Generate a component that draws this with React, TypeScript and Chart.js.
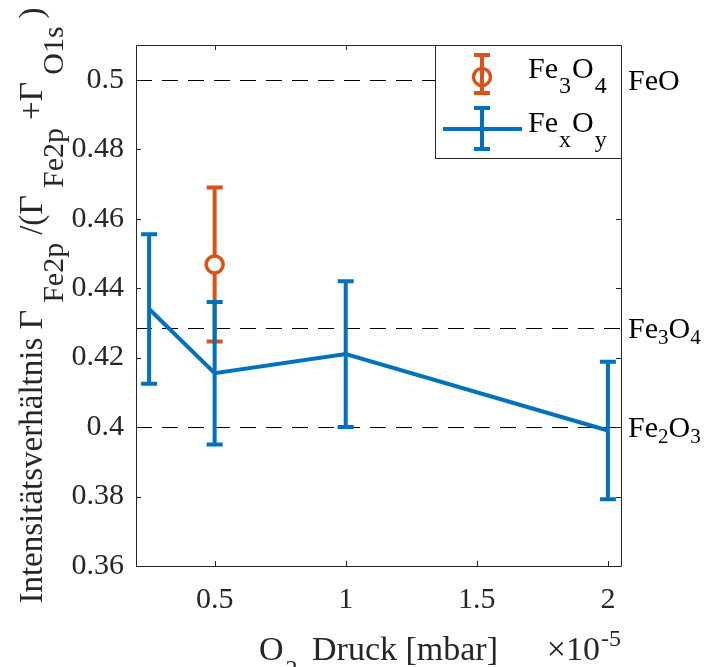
import React, { useEffect, useRef } from "react";
import { Chart, registerables } from "chart.js";

Chart.register(...registerables);

// O2 pressure in units of 1e-5 mbar
const pressureFexOy = [0.25, 0.5, 1, 2];
const ratioFexOy = [0.434, 0.4155, 0.421, 0.399];
const errFexOy = [0.0215, 0.0205, 0.021, 0.0198];

const pressureFe3O4 = [0.5];
const ratioFe3O4 = [0.4468];
const errFe3O4 = [0.0222];

const xTicks = [0.5, 1, 1.5, 2];
const yTicks = [0.36, 0.38, 0.4, 0.42, 0.44, 0.46, 0.48, 0.5];

type Run = { t: string; sub?: boolean; sup?: boolean; gap?: number; size?: number };

// reference stoichiometric ratios
const refLabels: Run[][] = [
  [{ t: "FeO" }],
  [{ t: "Fe" }, { t: "3", sub: true }, { t: "O" }, { t: "4", sub: true }],
  [{ t: "Fe" }, { t: "2", sub: true }, { t: "O" }, { t: "3", sub: true }],
];
const refValues = [0.5, 0.4286, 0.4];

const BLUE = "#0072BD";
const ORANGE = "#D95319";
const AXIS = "#262626";
const FONT = "'Liberation Serif', 'Times New Roman', serif";

function f(size: number) {
  return `${size}px ${FONT}`;
}

function drawRuns(
  ctx: CanvasRenderingContext2D,
  runs: Run[],
  x: number,
  y: number,
  size: number,
  subSize: number,
  subOff: number,
  supOff: number,
  align: "left" | "center" | "right"
) {
  const sz = (r: Run) => r.size ?? (r.sub || r.sup ? subSize : size);
  const widths = runs.map((r) => {
    ctx.font = f(sz(r));
    return ctx.measureText(r.t).width + (r.gap ?? 0);
  });
  const total = widths.reduce((a, b) => a + b, 0);
  let cx = align === "left" ? x : align === "center" ? x - total / 2 : x - total;
  ctx.textAlign = "left";
  ctx.textBaseline = "alphabetic";
  runs.forEach((r, i) => {
    ctx.font = f(sz(r));
    ctx.fillText(r.t, cx, y + (r.sub ? subOff : r.sup ? -supOff : 0));
    cx += widths[i];
  });
}

function errorBar(
  ctx: CanvasRenderingContext2D,
  px: number,
  yTop: number,
  yBot: number,
  color: string,
  capHalf: number,
  lw: number
) {
  ctx.save();
  ctx.strokeStyle = color;
  ctx.lineWidth = lw;
  ctx.lineCap = "butt";
  ctx.beginPath();
  ctx.moveTo(px, yTop);
  ctx.lineTo(px, yBot);
  ctx.moveTo(px - capHalf, yTop);
  ctx.lineTo(px + capHalf, yTop);
  ctx.moveTo(px - capHalf, yBot);
  ctx.lineTo(px + capHalf, yBot);
  ctx.stroke();
  ctx.restore();
}

const decorPlugin = {
  id: "decor",
  beforeDatasetsDraw(chart: any) {
    const { ctx, chartArea, scales } = chart;
    const xs = scales.x;
    const ys = scales.y;
    // dashed reference lines
    ctx.save();
    ctx.strokeStyle = "#000";
    ctx.lineWidth = 1;
    ctx.setLineDash([16, 10]);
    refValues.forEach((v) => {
      const py = Math.round(ys.getPixelForValue(v)) + 0.5;
      ctx.beginPath();
      ctx.moveTo(chartArea.left, py);
      ctx.lineTo(chartArea.right, py);
      ctx.stroke();
    });
    ctx.restore();
    // orange error bars
    pressureFe3O4.forEach((x, i) => {
      errorBar(
        ctx,
        xs.getPixelForValue(x),
        ys.getPixelForValue(ratioFe3O4[i] + errFe3O4[i]),
        ys.getPixelForValue(ratioFe3O4[i] - errFe3O4[i]),
        ORANGE,
        8,
        4
      );
    });
  },
  afterDatasetsDraw(chart: any) {
    const { ctx, chartArea, scales } = chart;
    const xs = scales.x;
    const ys = scales.y;
    const { left, right, top, bottom } = chartArea;

    // blue error bars
    pressureFexOy.forEach((x, i) => {
      errorBar(
        ctx,
        xs.getPixelForValue(x),
        ys.getPixelForValue(ratioFexOy[i] + errFexOy[i]),
        ys.getPixelForValue(ratioFexOy[i] - errFexOy[i]),
        BLUE,
        8,
        4
      );
    });

    // axes box and inward ticks
    ctx.save();
    ctx.strokeStyle = AXIS;
    ctx.lineWidth = 1;
    ctx.beginPath();
    ctx.rect(Math.round(left) + 0.5, Math.round(top) + 0.5, Math.round(right - left), Math.round(bottom - top));
    ctx.stroke();
    ctx.beginPath();
    yTicks.forEach((v) => {
      const py = Math.round(ys.getPixelForValue(v)) + 0.5;
      ctx.moveTo(left, py);
      ctx.lineTo(left + 5, py);
      ctx.moveTo(right, py);
      ctx.lineTo(right - 5, py);
    });
    xTicks.forEach((v) => {
      const px = Math.round(xs.getPixelForValue(v)) + 0.5;
      ctx.moveTo(px, bottom);
      ctx.lineTo(px, bottom - 5);
      ctx.moveTo(px, top);
      ctx.lineTo(px, top + 5);
    });
    ctx.stroke();
    ctx.restore();

    // reference labels on the right
    ctx.save();
    ctx.fillStyle = "#000";
    refValues.forEach((v, i) => {
      const py = ys.getPixelForValue(v);
      drawRuns(ctx, refLabels[i], right + 7, py + 10, 30, 21, 6, 0, "left");
    });
    ctx.restore();

    // legend
    ctx.save();
    const lx0 = 435.5, ly0 = top + 0.5, lx1 = right + 0.5, ly1 = 158.5;
    ctx.fillStyle = "#fff";
    ctx.fillRect(lx0, ly0, lx1 - lx0, ly1 - ly0);
    ctx.strokeStyle = AXIS;
    ctx.lineWidth = 1;
    ctx.strokeRect(lx0, ly0, lx1 - lx0, ly1 - ly0);
    // Fe3O4 entry
    errorBar(ctx, 482, 55, 93, ORANGE, 8, 4);
    ctx.beginPath();
    ctx.strokeStyle = ORANGE;
    ctx.lineWidth = 3.5;
    ctx.arc(482, 77, 8.5, 0, Math.PI * 2);
    ctx.stroke();
    // FexOy entry
    ctx.beginPath();
    ctx.strokeStyle = BLUE;
    ctx.lineWidth = 4;
    ctx.moveTo(443, 129);
    ctx.lineTo(522, 129);
    ctx.stroke();
    errorBar(ctx, 482, 108, 149, BLUE, 8, 4);
    ctx.fillStyle = "#000";
    drawRuns(
      ctx,
      [{ t: "Fe", gap: 1 }, { t: "3", sub: true, gap: 1 }, { t: "O", gap: 1 }, { t: "4", sub: true }],
      528, 78, 30, 24, 15, 0, "left"
    );
    drawRuns(
      ctx,
      [{ t: "Fe", gap: 1 }, { t: "x", sub: true, gap: 1 }, { t: "O", gap: 1 }, { t: "y", sub: true }],
      528, 132, 30, 24, 15, 0, "left"
    );
    ctx.restore();

    // x-axis label
    ctx.save();
    ctx.fillStyle = AXIS;
    const cxm = (left + right) / 2;
    drawRuns(
      ctx,
      [{ t: "O", gap: 2 }, { t: "2", sub: true, gap: 6 }, { t: " Druck [mbar]" }],
      cxm,
      660,
      34,
      24,
      16,
      0,
      "center"
    );
    drawRuns(ctx, [{ t: "\u00d710", gap: 1 }, { t: "-5", sup: true }], right, 660, 34, 24, 0, 14, "right");
    ctx.restore();

    // y-axis label
    ctx.save();
    ctx.fillStyle = AXIS;
    ctx.translate(42, (top + bottom) / 2);
    ctx.rotate(-Math.PI / 2);
    drawRuns(
      ctx,
      [
        { t: "Intensitätsverhältnis " },
        { t: "\u0393", gap: 7, size: 34 },
        { t: "Fe2p", sub: true, gap: 8 },
        { t: "/(" },
        { t: "\u0393", gap: 7, size: 34 },
        { t: "Fe2p", sub: true, gap: 8 },
        { t: "+" },
        { t: "\u0393", gap: 7, size: 34 },
        { t: "O1s", sub: true, gap: 8 },
        { t: ")" },
      ],
      0,
      0,
      33,
      30,
      21,
      0,
      "center"
    );
    ctx.restore();
  },
};

export default function App() {
  const ref = useRef<HTMLCanvasElement | null>(null);

  useEffect(() => {
    if (!ref.current) return;
    const chart = new Chart(ref.current, {
      type: "line",
      data: {
        datasets: [
          {
            label: "Fe3O4",
            data: pressureFe3O4.map((x, i) => ({ x, y: ratioFe3O4[i] })),
            showLine: false,
            pointRadius: 8.5,
            pointHoverRadius: 8.5,
            pointBorderWidth: 3.5,
            pointBorderColor: ORANGE,
            pointBackgroundColor: "#fff",
            borderColor: ORANGE,
            order: 0,
          },
          {
            label: "FexOy",
            data: pressureFexOy.map((x, i) => ({ x, y: ratioFexOy[i] })),
            borderColor: BLUE,
            borderWidth: 4,
            pointRadius: 0,
            tension: 0,
            fill: false,
            order: 1,
          },
        ],
      },
      options: {
        animation: false,
        responsive: false,
        events: [],
        layout: { padding: { top: 45, right: 83, left: 0, bottom: 0 } },
        plugins: { legend: { display: false }, tooltip: { enabled: false } },
        scales: {
          x: {
            type: "linear",
            min: 0.2,
            max: 2.05,
            afterBuildTicks: (s: any) => {
              s.ticks = xTicks.map((v) => ({ value: v }));
            },
            afterFit: (s: any) => {
              s.height = 101;
            },
            grid: { display: false, drawTicks: false },
            border: { display: false },
            ticks: {
              color: AXIS,
              font: { family: FONT, size: 30 },
              padding: 16,
              maxRotation: 0,
              autoSkip: false,
              callback: (v: any) => String(Number(Number(v).toFixed(2))),
            },
          },
          y: {
            type: "linear",
            min: 0.36,
            max: 0.51,
            afterBuildTicks: (s: any) => {
              s.ticks = yTicks.map((v) => ({ value: v }));
            },
            afterFit: (s: any) => {
              s.width = 136;
            },
            grid: { display: false, drawTicks: false },
            border: { display: false },
            ticks: {
              color: AXIS,
              font: { family: FONT, size: 30 },
              padding: 12,
              autoSkip: false,
              callback: (v: any) => String(Number(Number(v).toFixed(2))),
            },
          },
        },
      },
      plugins: [decorPlugin],
    });
    return () => chart.destroy();
  }, []);

  return (
    <div style={{ position: "fixed", left: 0, top: 0, width: 704, height: 667, background: "#fff" }}>
      <canvas ref={ref} width={704} height={667} style={{ display: "block" }} />
    </div>
  );
}
